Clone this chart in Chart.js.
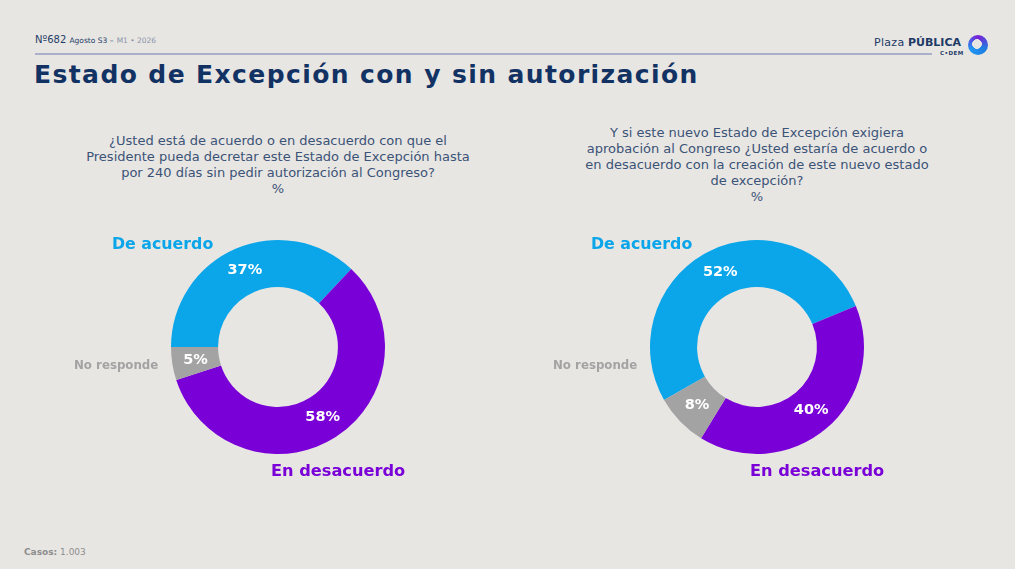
<!DOCTYPE html>
<html lang="es">
<head>
<meta charset="utf-8">
<script src="https://cdn.jsdelivr.net/npm/chart.js@4.4.1/dist/chart.umd.min.js"></script>
<style>
  html, body { margin: 0; padding: 0; }
  body { width: 1015px; height: 569px; background: #e8e6e3; position: relative; overflow: hidden;
         font-family: "DejaVu Sans", Inter, sans-serif; color: #143463; }
  .abs { position: absolute; }
  #hdr { left: 35px; top: 34px; font-size: 10px; color: #243d68; white-space: nowrap; }
  #hdr .sm { font-size: 7.5px; }
  #hdr .lt { font-size: 7.5px; color: #8a93a8; }
  #rule { left: 35px; top: 53px; width: 897px; height: 2px; background: #aab0ca; }
  #logo { left: 874px; top: 36px; font-size: 11px; color: #1d3a66; white-space: nowrap; }
  #logo .pl { letter-spacing: 0.3px; }
  #logo b { font-weight: 800; }
  #logo .cdem { position: absolute; left: 66px; top: 14px; font-size: 5.5px; font-weight: 700; letter-spacing: 0.5px; }
  #icon { left: 968px; top: 35px; width: 20px; height: 20px; border-radius: 50%;
          background: radial-gradient(circle at 45% 45%, #e8e6e3 0 30%, transparent 32%),
                      conic-gradient(from 120deg, #1f7fe0, #2196f3, #7b1fd6, #1f7fe0); }
  #title { left: 34px; top: 60px; font-size: 25px; font-weight: 700; color: #123263; white-space: nowrap; letter-spacing: 1.4px; }
  .q { width: 460px; text-align: center; font-size: 13px; line-height: 16px; color: #3b5377; }
  #q1 { left: 48px; top: 133px; }
  #q2 { left: 527px; top: 125px; }
  #casos { left: 24px; top: 547px; font-size: 9px; color: #8d8d8d; }
  #casos b { font-weight: 700; }
  canvas { position: absolute; }
</style>
</head>
<body>
<div id="hdr" class="abs">Nº682 <span class="sm">Agosto S3 –</span> <span class="lt">M1 • 2026</span></div>
<div id="rule" class="abs"></div>
<div id="logo" class="abs"><span class="pl">Plaza</span> <b>PÚBLICA</b><span class="cdem">C•DEM</span></div>
<div id="icon" class="abs"></div>
<div id="title" class="abs">Estado de Excepción con y sin autorización</div>
<div id="q1" class="abs q">¿Usted está de acuerdo o en desacuerdo con que el<br>Presidente pueda decretar este Estado de Excepción hasta<br>por 240 días sin pedir autorización al Congreso?<br>%</div>
<div id="q2" class="abs q">Y si este nuevo Estado de Excepción exigiera<br>aprobación al Congreso ¿Usted estaría de acuerdo o<br>en desacuerdo con la creación de este nuevo estado<br>de excepción?<br>%</div>
<div id="casos" class="abs"><b>Casos:</b> 1.003</div>

<canvas id="c1" style="left:58px; top:207px;"></canvas>
<canvas id="c2" style="left:537px; top:207px;"></canvas>

<script>
const categories = ["De acuerdo", "En desacuerdo", "No responde"];
const sinAutorizacion = [37, 58, 5];
const conAutorizacion = [52, 40, 8];
const colors = ["#0ba5ea", "#7a00d8", "#a3a3a3"];

// offsets of the category captions from the donut centre
const captionPos = [
    { dx: -166, dy: -102, size: 15.8, color: colors[0] },
    { dx: -7, dy: 125, size: 16.2, color: colors[1] },
    { dx: -204, dy: 19, size: 11.8, color: colors[2] }
];

const labelsPlugin = {
    id: "labels",
    afterDatasetsDraw(chart) {
        const ctx = chart.ctx;
        const meta = chart.getDatasetMeta(0);
        const ds = chart.data.datasets[0];
        const cx = meta.data[0].x, cy = meta.data[0].y;
        ctx.save();
        ctx.textAlign = "center";
        ctx.textBaseline = "middle";
        ctx.fillStyle = "#ffffff";
        ctx.font = "bold 14.5px 'DejaVu Sans'";
        meta.data.forEach((arc, i) => {
            const p = arc.getCenterPoint();
            ctx.fillText(ds.data[i] + "%", p.x, p.y);
        });
        ctx.textAlign = "left";
        chart.data.labels.forEach((lab, i) => {
            const c = captionPos[i];
            ctx.fillStyle = c.color;
            ctx.font = "bold " + c.size + "px 'DejaVu Sans'";
            ctx.fillText(lab, cx + c.dx, cy + c.dy);
        });
        ctx.restore();
    }
};

function makeDonut(id, values, rotation) {
    const el = document.getElementById(id);
    el.width = 440;
    el.height = 280;
    return new Chart(el, {
        type: "doughnut",
        data: { labels: categories, datasets: [{ data: values, backgroundColor: colors, borderWidth: 0 }] },
        options: {
            responsive: false,
            animation: false,
            rotation: rotation,
            cutout: "56%",
            layout: { padding: { top: 33, bottom: 33 } },
            plugins: { legend: { display: false }, tooltip: { enabled: false } }
        },
        plugins: [labelsPlugin]
    });
}

makeDonut("c1", sinAutorizacion, -90);
makeDonut("c2", conAutorizacion, -119.7);
</script>
</body>
</html>
